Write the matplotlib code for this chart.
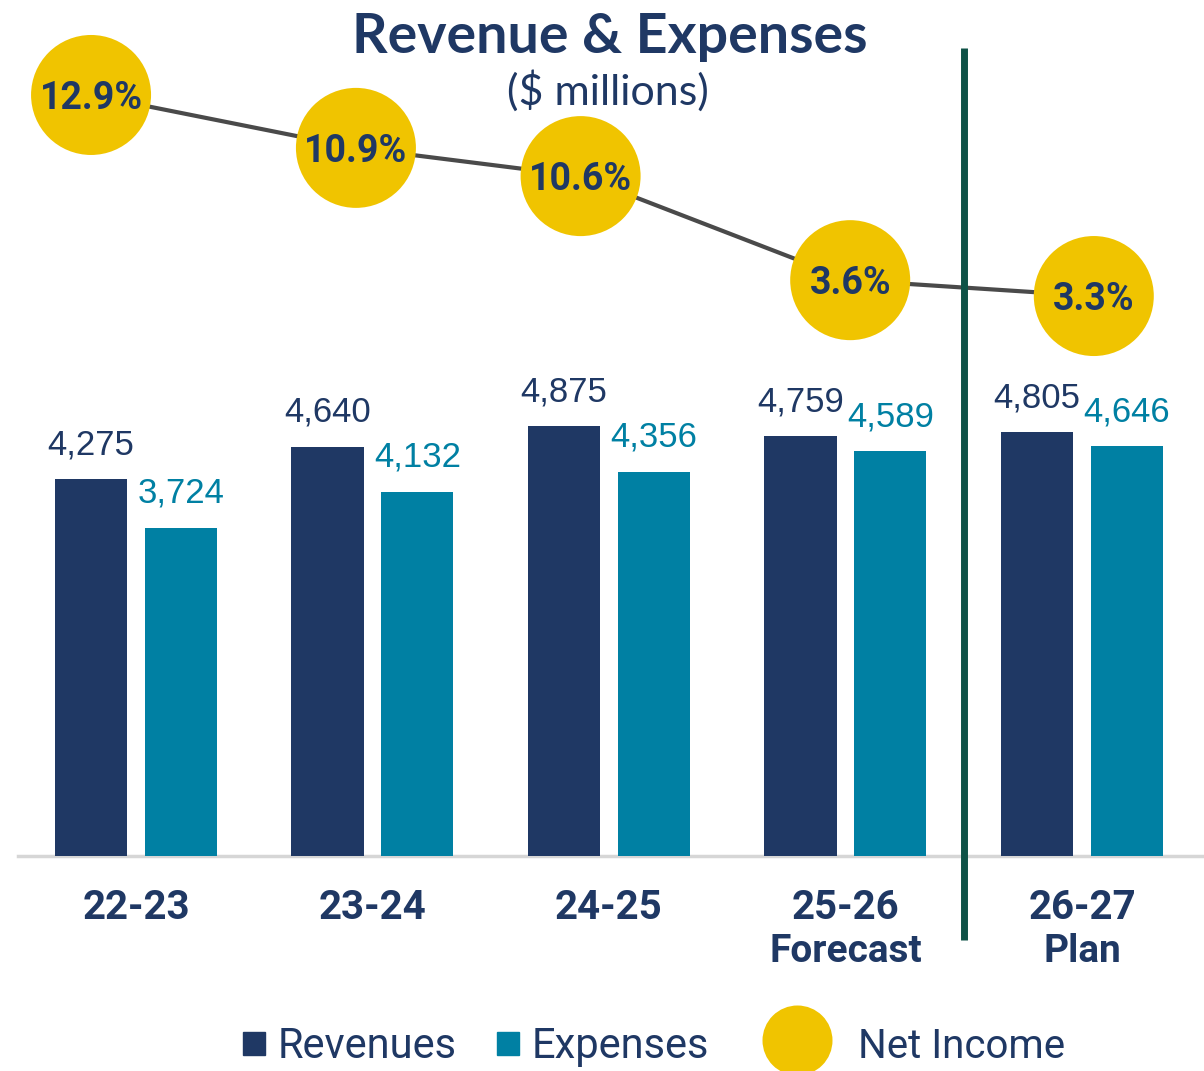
import matplotlib
matplotlib.use('Agg')
import matplotlib.pyplot as plt
from matplotlib.patches import Rectangle
from matplotlib.lines import Line2D

# data
years = ['22-23', '23-24', '24-25', '25-26', '26-27']
year_notes = ['', '', '', 'Forecast', 'Plan']
revenues = [4275, 4640, 4875, 4759, 4805]
expenses = [3724, 4132, 4356, 4589, 4646]
net_income = ['12.9%', '10.9%', '10.6%', '3.6%', '3.3%']

# where the net income bubbles sit (hand placed in the original)
bubble_dx = [-0.19, -0.07, -0.12, 0.02, 0.05]
bubble_y = [8630, 8030, 7710, 6530, 6350]

NAVY = '#1F3864'
TEAL = '#0080A3'
GOLD = '#F0C400'
NARROW = ['Roboto', 'DejaVu Sans']
ARIAL = ['Liberation Sans', 'DejaVu Sans']

fig = plt.figure(figsize=(12.04, 10.71), dpi=100)
ax = fig.add_axes([0, 0, 1, 1])
ax.set_xlim(-0.575, 4.516)
ax.set_ylim(-2438, 9707)
ax.axis('off')

x = range(len(years))
w = 0.305
off = 0.19
rev_x = [i - off for i in x]
exp_x = [i + off for i in x]
ax.bar(rev_x, revenues, width=w, color=NAVY, zorder=3)
ax.bar(exp_x, expenses, width=w, color=TEAL, zorder=3)
ax.axhline(0, xmin=18 / 1204, xmax=1, color='#D6D6D6', lw=2.5, zorder=2)

for xi, v in zip(rev_x, revenues):
    ax.annotate(f'{v:,}', (xi, v), xytext=(0, 18), textcoords='offset points',
                ha='center', va='baseline', fontsize=25, color=NAVY, family=ARIAL)
for xi, v in zip(exp_x, expenses):
    ax.annotate(f'{v:,}', (xi, v), xytext=(0, 18), textcoords='offset points',
                ha='center', va='baseline', fontsize=25, color=TEAL, family=ARIAL)

# category labels
for i, (yr, note) in enumerate(zip(years, year_notes)):
    ax.annotate(yr, (i, 0), xytext=(0, -45), textcoords='offset points',
                ha='center', va='baseline', fontsize=29, fontweight='bold',
                color=NAVY, family=NARROW)
    if note:
        ax.annotate(note, (i, 0), xytext=(0, -76), textcoords='offset points',
                    ha='center', va='baseline', fontsize=28, fontweight='bold',
                    color=NAVY, family=NARROW)

# forecast / plan divider
ax.vlines(3.5, -950, 9160, color='#0E5247', lw=5, zorder=4)

# net income bubbles
bx = [i + d for i, d in zip(x, bubble_dx)]
ax.plot(bx, bubble_y, color='#4A4A4A', lw=3, zorder=3)
ax.scatter(bx, bubble_y, s=86.4 ** 2, color=GOLD, edgecolors='none', zorder=5)
for xi, yi, lab in zip(bx, bubble_y, net_income):
    ax.annotate(lab, (xi, yi), xytext=(0, -10), textcoords='offset points',
                ha='center', va='baseline', fontsize=27, fontweight='bold',
                color=NAVY, family=NARROW, zorder=6)

# titles
fig.text(610 / 1204, 1 - 53 / 1071, 'Revenue & Expenses', ha='center', va='baseline',
         fontsize=40, fontweight='bold', color=NAVY, family=['Lato', 'DejaVu Sans'])
fig.text(608 / 1204, 1 - 105 / 1071, '($ millions)', ha='center', va='baseline',
         fontsize=31, color=NAVY, family=['Lato', 'DejaVu Sans'])

# legend
H = 1071
W = 1204
for x0, col, lab in [(243, NAVY, 'Revenues'), (497, TEAL, 'Expenses')]:
    fig.add_artist(Rectangle((x0 / W, 1 - 1055 / H), 22 / W, 23 / H,
                             transform=fig.transFigure, color=col))
    fig.text((x0 + 35) / W, 1 - 1058 / H, lab, ha='left', va='baseline',
             fontsize=30, color=NAVY, family=NARROW)
fig.add_artist(Line2D([797 / W], [1 - 1040 / H], marker='o', markersize=50.4,
                      color=GOLD, markeredgewidth=0, transform=fig.transFigure))
fig.text(858 / W, 1 - 1058 / H, 'Net Income', ha='left', va='baseline',
         fontsize=29, color=NAVY, family=NARROW)

fig.savefig('out.png', dpi=100)
